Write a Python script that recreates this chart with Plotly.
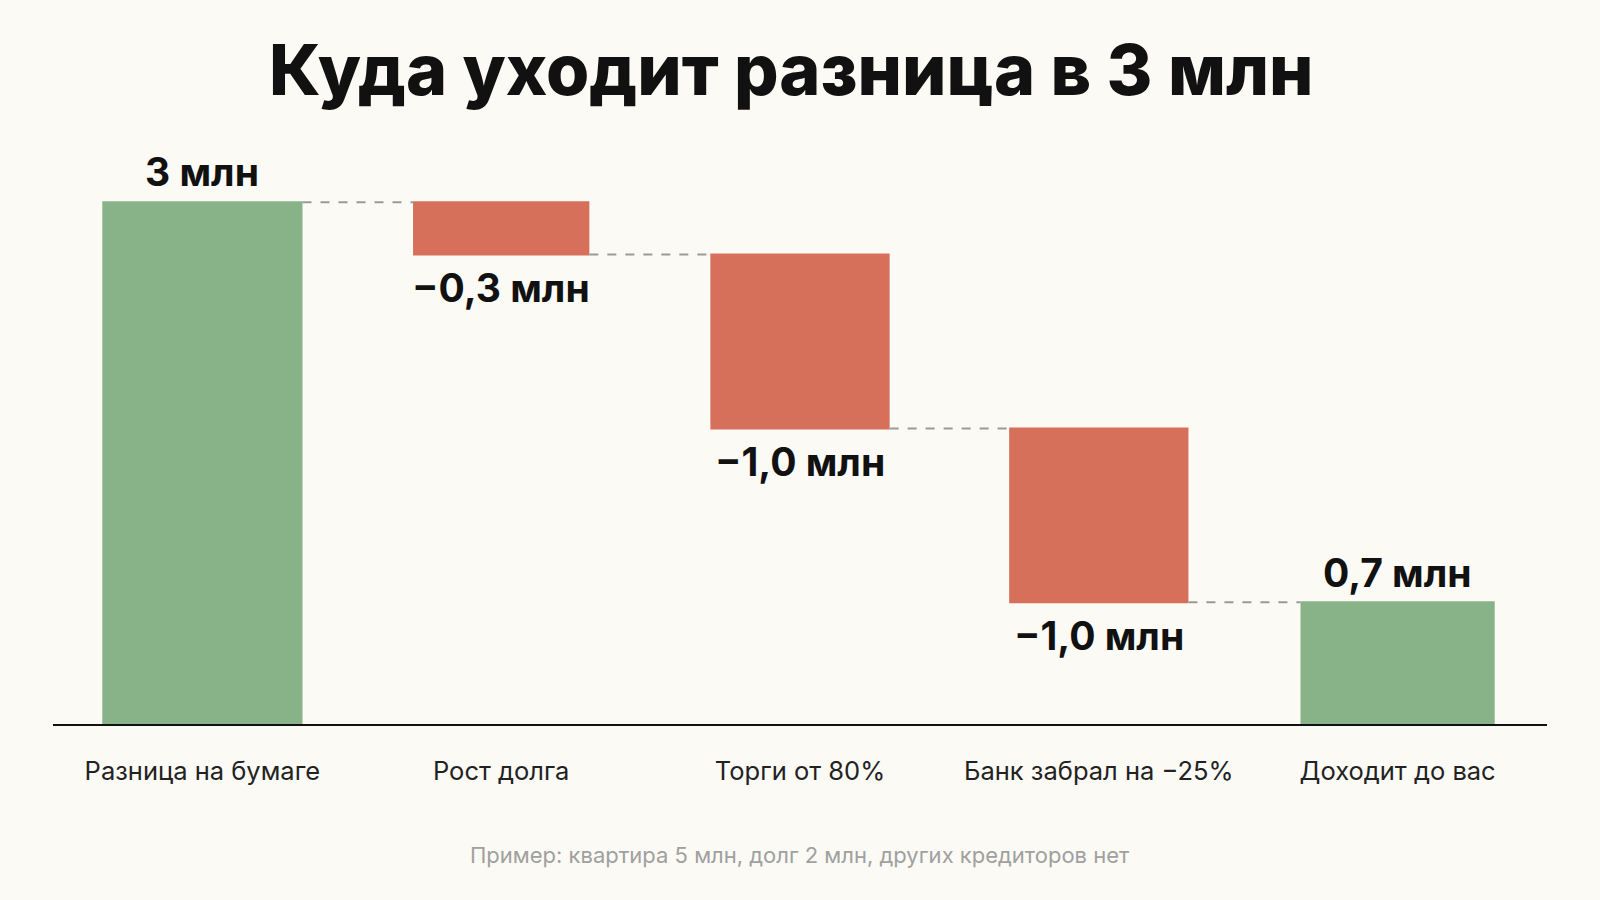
import plotly.graph_objects as go

# waterfall steps, in millions
categories = ["Разница на бумаге", "Рост долга", "Торги от 80%", "Банк забрал на −25%", "Доходит до вас"]
values = [3.0, -0.3, -1.0, -1.0, 0.7]
measures = ["absolute", "relative", "relative", "relative", "total"]
value_labels = ["3 млн", "−0,3 млн", "−1,0 млн", "−1,0 млн", "0,7 млн"]

title_text = "Куда уходит разница в 3 млн"
footnote = "Пример: квартира 5 млн, долг 2 млн, других кредиторов нет"

GREEN = "#88b288"
RED = "#d6705b"
BG = "#fbfaf5"
bar_widths = [0.67, 0.59, 0.6, 0.6, 0.65]

fig = go.Figure(
    go.Waterfall(
        x=categories,
        y=values,
        measure=measures,
        increasing=dict(marker=dict(color=GREEN)),
        decreasing=dict(marker=dict(color=RED)),
        totals=dict(marker=dict(color=GREEN)),
        connector=dict(line=dict(color="#9a9a9a", width=2, dash="dash")),
        width=bar_widths,
        hoverinfo="skip",
    )
)

# value labels: above green bars, under red ones
level = 0.0
for cat, val, meas, lab in zip(categories, values, measures, value_labels):
    if meas == "absolute":
        level = val
        y, shift = val, 31
    elif meas == "total":
        y, shift = level, 30
    else:
        level += val
        y, shift = (level, -33) if val < 0 else (level, 31)
    fig.add_annotation(
        x=cat, y=y, text=lab, showarrow=False, yanchor="middle", yshift=shift,
        font=dict(family="Inter", size=39, color="#111111", weight=700),
    )

fig.update_layout(
    width=1600,
    height=900,
    paper_bgcolor=BG,
    plot_bgcolor=BG,
    showlegend=False,
    margin=dict(l=53, r=53, t=98, b=176),
    title=dict(
        text=title_text,
        x=0.4945,
        xanchor="center",
        y=0.922,
        yanchor="middle",
        font=dict(family="Inter", size=70, color="#111111", weight=800),
    ),
    font=dict(family="Inter"),
)

fig.update_xaxes(
    showline=True,
    linecolor="#111111",
    linewidth=2,
    showgrid=False,
    ticks="",
    ticklabelstandoff=23,
    tickfont=dict(family="Inter", size=25.5, color="#222222"),
)
fig.update_yaxes(range=[0, 3.6], visible=False, showgrid=False, zeroline=False)

fig.add_annotation(
    text=footnote,
    xref="paper",
    yref="paper",
    x=0.5,
    y=-0.209,
    xanchor="center",
    yanchor="middle",
    showarrow=False,
    font=dict(family="Inter", size=22, color="#a0a0a0"),
)

fig.write_html(
    "out.html",
    config={"displayModeBar": False},
    post_script="document.body.style.margin='0';",
)
